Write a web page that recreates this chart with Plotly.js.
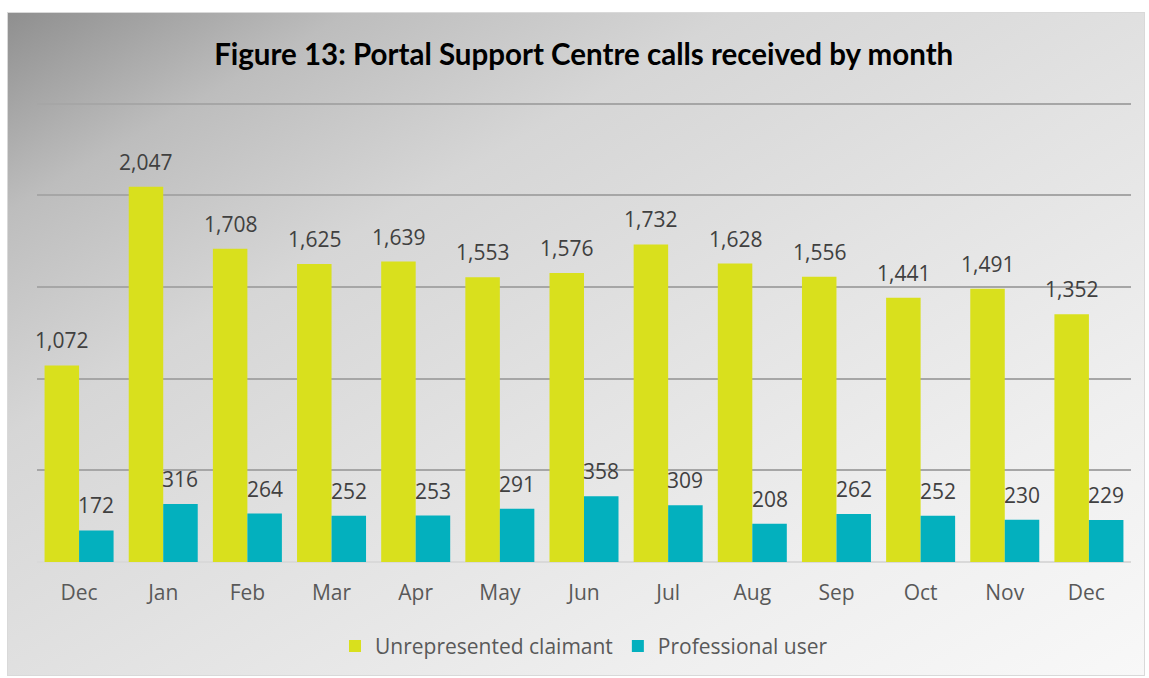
<!DOCTYPE html>
<html>
<head>
<meta charset="utf-8">
<script src="https://cdn.plot.ly/plotly-3.0.1.min.js"></script>
<style>
  html, body { margin: 0; padding: 0; background: #ffffff; }
  #wrap { position: relative; width: 1149px; height: 678px; overflow: hidden; }
  #frame { position: absolute; left: 7px; top: 12px; width: 1138px; height: 664px;
    box-sizing: border-box; border: 1px solid #d9d9d9;
    background: linear-gradient(150deg, #8f8f8f 0%, #bdbdbd 15%, #d6d6d6 32%, #e3e3e3 55%, #efefef 78%, #f8f8f8 100%); }
  #chart { position: absolute; left: 0; top: 0; width: 1149px; height: 678px; }
</style>
</head>
<body>
<div id="wrap">
  <div id="frame"></div>
  <div id="chart"></div>
</div>
<script>
const months = ["Dec", "Jan", "Feb", "Mar", "Apr", "May", "Jun", "Jul", "Aug", "Sep", "Oct", "Nov", "Dec "];
const unrepresented = [1072, 2047, 1708, 1625, 1639, 1553, 1576, 1732, 1628, 1556, 1441, 1491, 1352];
const professional = [172, 316, 264, 252, 253, 291, 358, 309, 208, 262, 252, 230, 229];
const seriesNames = ["Unrepresented claimant", "Professional user"];
const seriesColors = ["#d9e01d", "#03b0be"];
const titleText = "Figure 13: Portal Support Centre calls received by month";

const bodyFont = "'Open Sans', 'Noto Sans', sans-serif";
const labelFont = { family: bodyFont, size: 21, color: "#404040" };
const bargap = 0.18;
const barW = (1 - bargap) / 2;

const traces = [
  { type: "bar", name: seriesNames[0], x: months, y: unrepresented,
    marker: { color: seriesColors[0] }, hoverinfo: "x+y" },
  { type: "bar", name: seriesNames[1], x: months, y: professional,
    marker: { color: seriesColors[1] }, hoverinfo: "x+y" }
];

// value labels placed through the axes, above each bar
const annotations = [];
[unrepresented, professional].forEach(function (vals, s) {
  vals.forEach(function (v, i) {
    annotations.push({
      x: i + (s === 0 ? -barW / 2 : barW / 2), y: v, xref: "x", yref: "y",
      text: v.toLocaleString("en-US"), showarrow: false,
      xanchor: "center", yanchor: "middle", yshift: 25,
      font: labelFont
    });
  });
});

const layout = {
  width: 1149, height: 678,
  paper_bgcolor: "rgba(0,0,0,0)", plot_bgcolor: "rgba(0,0,0,0)",
  margin: { l: 37, r: 18, t: 100, b: 115, pad: 0 },
  barmode: "group", bargap: bargap, bargroupgap: 0,
  font: { family: bodyFont, color: "#595959" },
  title: { text: "<b>" + titleText + "</b>", x: 0.508, xanchor: "center", y: 0.92, yanchor: "middle",
    font: { family: "Lato, 'Open Sans', sans-serif", size: 29.5, color: "#000000" } },
  xaxis: { type: "category", range: [-0.5, months.length - 0.5], autorange: false,
    showgrid: false, zeroline: false, showline: false, ticks: "",
    ticklabelstandoff: 16, tickfont: { family: bodyFont, size: 21, color: "#595959" }, fixedrange: true },
  yaxis: { range: [0, 2520], autorange: false, tickvals: [0, 500, 1000, 1500, 2000, 2500], showticklabels: false, showgrid: true,
    gridcolor: "#a6a6a6", gridwidth: 2, zeroline: true, zerolinecolor: "#d9d9d9", zerolinewidth: 2,
    showline: false, ticks: "", fixedrange: true },
  annotations: annotations,
  showlegend: true,
  legend: { orientation: "h", x: 0.5, xanchor: "center", y: -0.18, yanchor: "middle",
    font: { family: bodyFont, size: 21, color: "#595959" }, bgcolor: "rgba(0,0,0,0)", itemwidth: 30, traceorder: "normal" }
};

Plotly.newPlot("chart", traces, layout, { displayModeBar: false, staticPlot: true });
</script>
</body>
</html>
